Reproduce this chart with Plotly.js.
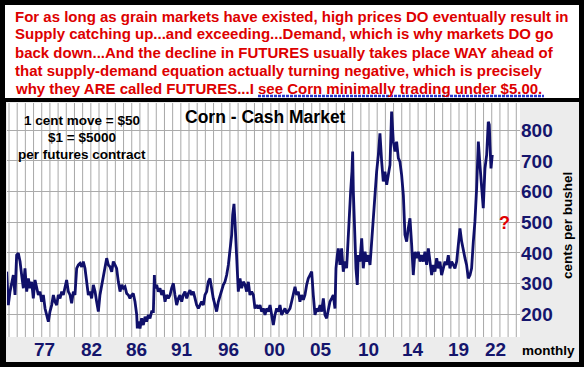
<!DOCTYPE html>
<html><head><meta charset="utf-8">
<script src="https://cdn.plot.ly/plotly-3.0.1.min.js"></script>
<style>
html,body{margin:0;padding:0;background:#fff;overflow:hidden;}
.bg{position:absolute;}
#frame{left:0;top:0;width:584px;height:367px;background:#000;}
#box{left:5px;top:5px;width:574px;height:93px;background:#fff;}
#panel{left:6px;top:102px;width:573px;height:260px;background:#ececec;}
#chart{position:absolute;left:0;top:0;width:587px;height:373px;}
</style>
</head><body>
<div class="bg" id="frame"></div><div class="bg" id="box"></div><div class="bg" id="panel"></div>
<div id="chart"></div>
<script>
// ---- data (x in chart years, y in cents per bushel) ----
const years = [
1974.07,1974.23,1974.40,1974.73,1974.90,1975.06,1975.23,1975.40,1975.56,1975.73,1975.89,
1976.06,1976.23,1976.39,1976.56,1976.72,1976.89,1977.06,1977.22,1977.39,1977.55,1977.72,1977.89,
1978.05,1978.22,1978.38,1978.55,1978.72,1978.88,1979.05,1979.21,1979.38,1979.55,1979.71,1979.88,
1980.04,1980.21,1980.38,1980.54,1980.71,1980.87,1981.04,1981.21,1981.37,1981.54,1981.70,1981.87,
1982.04,1982.20,1982.37,1982.53,1982.70,1982.87,1983.03,1983.20,1983.36,1983.53,1983.70,1983.86,
1984.03,1984.19,1984.36,1984.53,1984.69,1984.86,1985.02,1985.19,1985.36,1985.52,1985.69,1985.85,
1986.02,1986.19,1986.35,1986.52,1986.68,1986.85,1987.02,1987.08,1987.18,1987.35,1987.51,1987.68,1987.85,
1988.01,1988.18,1988.34,1988.51,1988.68,1988.78,1988.84,1989.01,1989.17,1989.34,1989.51,1989.67,1989.84,
1990.00,1990.17,1990.34,1990.50,1990.67,1990.83,1991.00,1991.17,1991.33,1991.50,1991.66,1991.83,
1992.00,1992.16,1992.33,1992.49,1992.66,1992.83,1992.99,1993.16,1993.32,1993.49,1993.66,1993.82,1993.99,
1994.15,1994.32,1994.49,1994.65,1994.82,1994.98,1995.15,1995.32,1995.48,1995.65,1995.81,1995.98,
1996.15,1996.31,1996.48,1996.58,1996.71,1996.81,1996.91,1997.04,1997.14,1997.31,1997.47,1997.64,1997.81,1997.97,
1998.14,1998.30,1998.47,1998.64,1998.80,1998.97,1999.13,1999.30,1999.47,1999.63,1999.80,1999.96,
2000.13,2000.30,2000.46,2000.63,2000.79,2000.96,2001.13,2001.29,2001.46,2001.62,2001.79,2001.96,
2002.12,2002.29,2002.45,2002.62,2002.79,2002.95,
2003.12,2003.28,2003.45,2003.62,2003.78,2003.95,
2004.11,2004.28,2004.45,2004.61,2004.78,2004.94,
2005.11,2005.28,2005.44,2005.61,2005.77,2005.94,
2006.11,2006.27,2006.44,2006.60,2006.77,2006.87,
2007.00,2007.10,2007.27,2007.43,2007.60,2007.77,2007.93,
2008.10,2008.20,2008.33,2008.46,2008.53,2008.60,2008.69,2008.79,2008.86,2008.99,
2009.09,2009.26,2009.43,2009.59,2009.76,2009.92,
2010.09,2010.26,2010.42,2010.59,2010.75,2010.92,
2011.09,2011.25,2011.42,2011.58,2011.75,2011.92,
2012.08,2012.25,2012.41,2012.58,2012.75,2012.91,
2013.08,2013.24,2013.41,2013.58,2013.74,2013.91,
2014.07,2014.24,2014.41,2014.57,2014.74,2014.90,
2015.07,2015.24,2015.40,2015.57,2015.73,2015.90,
2016.07,2016.23,2016.40,2016.56,2016.73,2016.90,
2017.06,2017.23,2017.39,2017.56,2017.73,2017.89,
2018.06,2018.22,2018.39,2018.56,2018.72,2018.89,
2019.05,2019.22,2019.39,2019.55,2019.72,2019.88,
2020.05,2020.22,2020.38,2020.55,2020.71,2020.88,
2021.05,2021.21,2021.38,2021.54,2021.71,2021.88,
2022.04,2022.14,2022.21,2022.31,2022.44
];
const cents = [
339,230,274,328,263,393,399,372,328,285,350,
274,317,285,306,252,312,285,263,274,241,263,219,
198,176,209,230,263,241,230,263,252,274,263,285,
312,274,263,236,274,263,350,361,366,355,372,350,
306,263,274,252,296,274,241,209,263,296,328,350,
383,361,355,339,372,361,350,306,274,296,285,290,
268,263,252,263,268,241,198,154,176,154,187,165,192,
176,198,187,209,209,328,285,296,274,285,263,279,241,
263,252,263,285,301,263,230,252,263,241,263,274,
252,268,279,263,274,252,230,219,230,241,230,263,274,
306,317,274,252,230,209,241,263,274,296,306,328,
361,404,459,524,560,502,437,350,274,317,285,306,296,274,
306,263,274,263,219,230,219,230,209,219,198,219,
209,230,198,165,198,219,209,230,198,209,219,203,
209,219,241,263,290,263,
274,241,263,247,263,296,
317,328,339,263,198,219,
209,230,209,252,198,187,
219,241,252,263,219,350,
393,415,361,415,339,372,350,
480,557,600,665,731,600,513,437,350,296,
393,372,448,350,404,372,
393,361,437,524,589,665,
720,790,698,633,665,622,
654,687,861,763,731,763,
709,698,654,589,459,437,
480,513,426,328,404,383,
404,372,393,372,404,361,
415,372,328,361,339,383,
350,372,328,350,372,361,
393,350,372,361,350,372,
426,480,437,404,383,361,
317,328,350,437,502,611,
763,687,622,546,676,720,
828,818,752,676,720
];
const xTickVals = [1977.88,1982.54,1987.02,1991.50,1996.21,2000.79,2005.36,2010.09,2014.57,2019.12,2022.77];
const xTickText = ['77','82','86','91','96','00','05','10','14','19','22'];
const yTickVals = [200,300,400,500,600,700,800];
const yTickText = ['200','300','400','500','600','700','800'];
const headlineLines = [
  'For as long as grain markets have existed, high prices DO eventually result in',
  'Supply catching up...and exceeding...Demand, which is why markets DO go',
  'back down...And the decline in FUTURES usually takes place WAY ahead of',
  'that supply-demand equation actually turning negative, which is precisely',
  'why they ARE called FUTURES...I see Corn minimally trading under $5.00.'
];
const chartTitle = 'Corn - Cash Market';
const contractNote = ['1 cent move = $50','$1 = $5000','per futures contract'];
const yAxisLabel = 'cents per bushel';
const xAxisLabel = 'monthly';
const outlookMark = '?';

// ---- layout helpers (pixel -> paper) ----
const W = 587, H = 373, L = 7, R = 520, T = 103, B = 337;
const px = x => (x - L) / (R - L);
const py = y => (B - y) / (B - T);
const FONT = 'Liberation Sans, Arial, Helvetica, sans-serif';
const NAVY = '#15156c';
const xRange = [1974.1, 2025.2];
const yRange = [126, 889];

const annotations = [];
const headY = [16, 34, 52, 70, 88];
headlineLines.forEach((t, i) => annotations.push({
  text: '<b>' + t + '</b>', xref: 'paper', yref: 'paper', x: px(13), y: py(headY[i]),
  xanchor: 'left', yanchor: 'middle', showarrow: false,
  font: {family: FONT, size: 15, color: '#dd0000'}
}));
annotations.push({text: '<b>' + chartTitle + '</b>', xref: 'paper', yref: 'paper', x: px(265), y: py(117),
  xanchor: 'center', yanchor: 'middle', showarrow: false, font: {family: FONT, size: 17.5, color: '#000'}});
const noteY = [120, 137, 154];
contractNote.forEach((t, i) => annotations.push({
  text: '<b>' + t + '</b>', xref: 'paper', yref: 'paper', x: px(82), y: py(noteY[i]),
  xanchor: 'center', yanchor: 'middle', showarrow: false, font: {family: FONT, size: 13.5, color: '#000'}
}));
annotations.push({text: '<b>' + outlookMark + '</b>', xref: 'paper', yref: 'paper', x: px(504), y: py(223),
  xanchor: 'center', yanchor: 'middle', showarrow: false, font: {family: FONT, size: 18, color: '#e00000'}});
annotations.push({text: '<b>' + yAxisLabel + '</b>', xref: 'paper', yref: 'paper', x: px(567), y: py(226),
  xanchor: 'center', yanchor: 'middle', textangle: -90, showarrow: false, font: {family: FONT, size: 13.5, color: '#000'}});
annotations.push({text: '<b>' + xAxisLabel + '</b>', xref: 'paper', yref: 'paper', x: px(548), y: py(350),
  xanchor: 'center', yanchor: 'middle', showarrow: false, font: {family: FONT, size: 13.5, color: '#000'}});
xTickVals.forEach((v, i) => annotations.push({
  text: '<b>' + xTickText[i] + '</b>', xref: 'x', yref: 'paper', x: v, y: py(349),
  xanchor: 'center', yanchor: 'middle', showarrow: false, font: {family: FONT, size: 19, color: NAVY}
}));

const shapes = [];
// vertical grid lines at the chart's grid spacing, placed through the x axis scale
for (let g = 1974.3; g < xRange[1]; g += 0.815) {
  shapes.push({type: 'line', xref: 'x', yref: 'paper', layer: 'between', x0: g, x1: g, y0: 0, y1: 1,
    line: {color: '#a8a8a8', width: 1}});
}
shapes.push({type: 'line', xref: 'paper', yref: 'paper', layer: 'above', x0: px(258), x1: px(544), y0: py(96), y1: py(96),
  line: {color: '#2a3ad0', width: 2.5, dash: '3px,1px'}});

const trace = {type: 'scatter', mode: 'lines', x: years, y: cents,
  line: {color: '#10106a', width: 2.8}, hoverinfo: 'skip'};

const layout = {
  width: W, height: H, margin: {l: L, r: W - R, t: T, b: H - B, pad: 0},
  paper_bgcolor: 'rgba(0,0,0,0)', plot_bgcolor: '#ffffff', showlegend: false,
  font: {family: FONT},
  xaxis: {range: xRange, showgrid: false, showticklabels: false,
    zeroline: false, showline: false, ticks: ''},
  yaxis: {range: yRange, side: 'right', tickmode: 'array', tickvals: yTickVals, ticktext: yTickText,
    showgrid: true, gridcolor: '#ababab', gridwidth: 1, zeroline: false, showline: false, ticks: '',
    tickfont: {family: FONT, size: 19, color: NAVY, weight: 'bold'}},
  shapes: shapes, annotations: annotations
};
Plotly.newPlot('chart', [trace], layout, {staticPlot: true, displayModeBar: false});
</script>
</body></html>
